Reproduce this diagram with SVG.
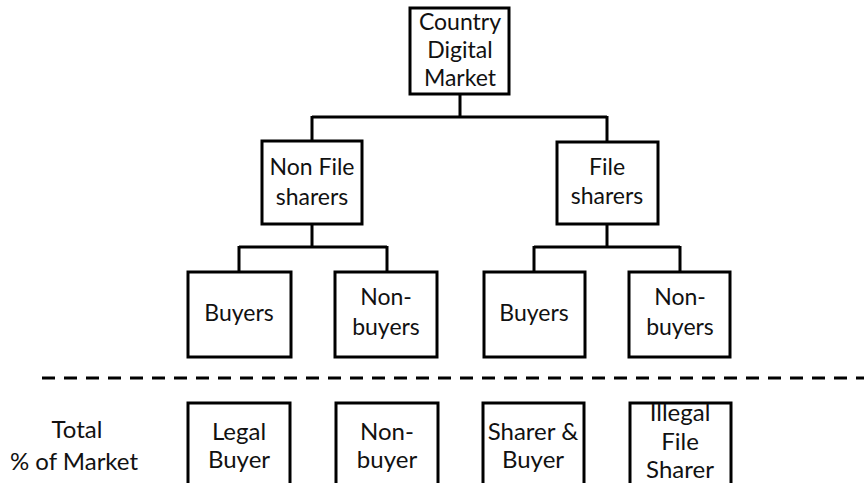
<svg xmlns="http://www.w3.org/2000/svg" width="864" height="483" viewBox="0 0 864 483">
<style>
.box{fill:#fff;stroke:#000;stroke-width:3}
.t{font-family:Lato,"Open Sans","Liberation Sans",sans-serif;font-size:23px;fill:#111;text-anchor:middle}
.b{font-size:24px}
.c{fill:none;stroke:#000;stroke-width:3}
</style>
<rect width="864" height="483" fill="#fff"/>
<g id="connectors">
<path class="c" d="M460 94V117M312 117H607M312 116V141M607 116V142"/>
<path class="c" d="M312 224V247M239 247H387M239 246V272M387 246V272"/>
<path class="c" d="M607 224V247M534 247H680M534 246V272M680 246V272"/>
<line x1="42" y1="378" x2="864" y2="378" stroke="#000" stroke-width="3" stroke-dasharray="13 9"/>
</g>
<g id="country"><rect class="box" x="410" y="8" width="99" height="86"/>
<text class="t" x="460" y="30">Country</text><text class="t" x="460" y="58">Digital</text><text class="t" x="460" y="86">Market</text></g>
<g id="nonfile"><rect class="box" x="262" y="141" width="100" height="83"/>
<text class="t" x="312" y="175">Non File</text><text class="t" x="312" y="205">sharers</text></g>
<g id="file"><rect class="box" x="557" y="142" width="101" height="82"/>
<text class="t" x="607" y="175">File</text><text class="t" x="607" y="204">sharers</text></g>
<g id="buyers1"><rect class="box" x="188" y="272" width="103" height="85"/>
<text class="t" x="239" y="321">Buyers</text></g>
<g id="nonbuyers1"><rect class="box" x="335" y="272" width="102" height="85"/>
<text class="t" x="386" y="305">Non-</text><text class="t" x="386" y="335">buyers</text></g>
<g id="buyers2"><rect class="box" x="484" y="272" width="101" height="85"/>
<text class="t" x="534" y="321">Buyers</text></g>
<g id="nonbuyers2"><rect class="box" x="629" y="272" width="101" height="85"/>
<text class="t" x="680" y="305">Non-</text><text class="t" x="680" y="335">buyers</text></g>
<g id="total"><text class="t b" x="77" y="438">Total</text><text class="t b" x="74" y="470">% of Market</text></g>
<g id="legal"><rect class="box" x="188" y="403" width="102" height="100"/>
<text class="t b" x="239" y="440">Legal</text><text class="t b" x="239" y="468">Buyer</text></g>
<g id="nonbuyer"><rect class="box" x="336" y="403" width="102" height="100"/>
<text class="t b" x="387" y="440">Non-</text><text class="t b" x="387" y="468">buyer</text></g>
<g id="sharerbuyer"><rect class="box" x="483" y="403" width="101" height="100"/>
<text class="t b" x="533" y="440">Sharer &amp;</text><text class="t b" x="533" y="468">Buyer</text></g>
<g id="illegal"><rect class="box" x="630" y="403" width="101" height="100"/>
<text class="t b" x="680" y="421">Illegal</text><text class="t b" x="680" y="450">File</text><text class="t b" x="680" y="478">Sharer</text></g>
</svg>
